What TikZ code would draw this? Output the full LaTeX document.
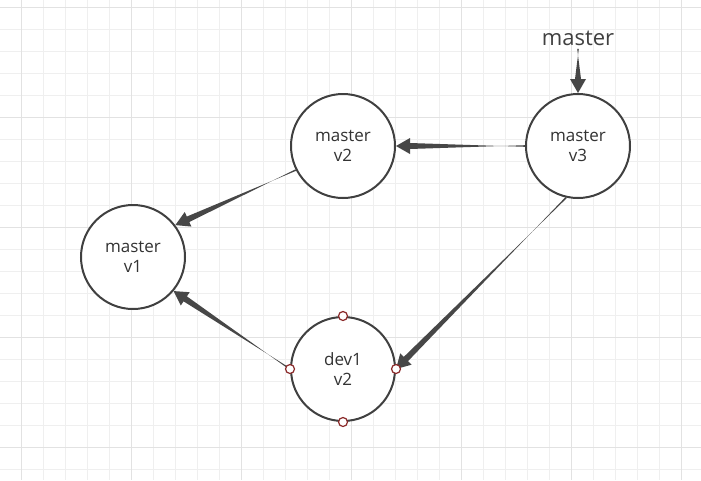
\documentclass[tikz,border=0pt]{standalone}
\usepackage{fontspec}
\setmainfont{Open Sans}
\usetikzlibrary{calc}
\definecolor{gridc}{HTML}{EFEFEF}
\definecolor{gridd}{HTML}{E2E2E2}
\definecolor{arrc}{HTML}{474747}
\definecolor{ptc}{HTML}{8B2A2A}
\tikzset{
  commit/.style={circle,draw=black!75,line width=2pt,minimum size=104pt,inner sep=0pt,align=center,font=\fontsize{17}{20}\selectfont,text=black!80,fill=white},
  pt/.style={circle,draw=ptc,line width=1.2pt,fill=white,minimum size=9pt,inner sep=0pt}
}
\newcommand\taparrow[2]{%
  \coordinate (tb) at ($(#2)!14pt!(#1)$);
  \fill[arrc] ($(#1)!0.8pt!90:(#2)$) -- ($(tb)!3pt!-90:(#2)$) -- ($(tb)!8pt!-90:(#2)$) -- (#2) -- ($(tb)!8pt!90:(#2)$) -- ($(tb)!3pt!90:(#2)$) -- ($(#1)!0.8pt!-90:(#2)$) -- cycle;}
\begin{document}
\begin{tikzpicture}[x=1pt,y=-1pt]
\useasboundingbox (0,0) rectangle (701,480);
\fill[white] (0,0) rectangle (701,480);
\foreach \x in {-1,21,...,701} \draw[gridc,line width=1pt] (\x,0) -- (\x,480);
\foreach \y in {-15,7,...,480} \draw[gridc,line width=1pt] (0,\y) -- (701,\y);
\foreach \x in {21,131,...,701} \draw[gridd,line width=1pt] (\x,0) -- (\x,480);
\foreach \y in {7,117,...,480} \draw[gridd,line width=1pt] (0,\y) -- (701,\y);
\node[commit] (v1) at (133,257) {master\\v1};
\node[commit] (v2) at (343,146) {master\\v2};
\node[commit] (v3) at (578,146) {master\\v3};
\node[commit] (d1) at (343,369) {dev1\\v2};
\node[font=\fontsize{22}{24}\selectfont,text=black!75] (lab) at (578,38) {master};
\taparrow{lab.south}{v3.north}
\taparrow{v3.west}{v2.east}
\taparrow{v2.207}{v1.37}
\taparrow{v3.257}{d1.east}
\taparrow{d1.west}{v1.320}
\node[pt] (pn) at (d1.north) {};
\node[pt] (ps) at (d1.south) {};
\node[pt] (pe) at (d1.east) {};
\node[pt] (pw) at (d1.west) {};
\end{tikzpicture}
\end{document}
